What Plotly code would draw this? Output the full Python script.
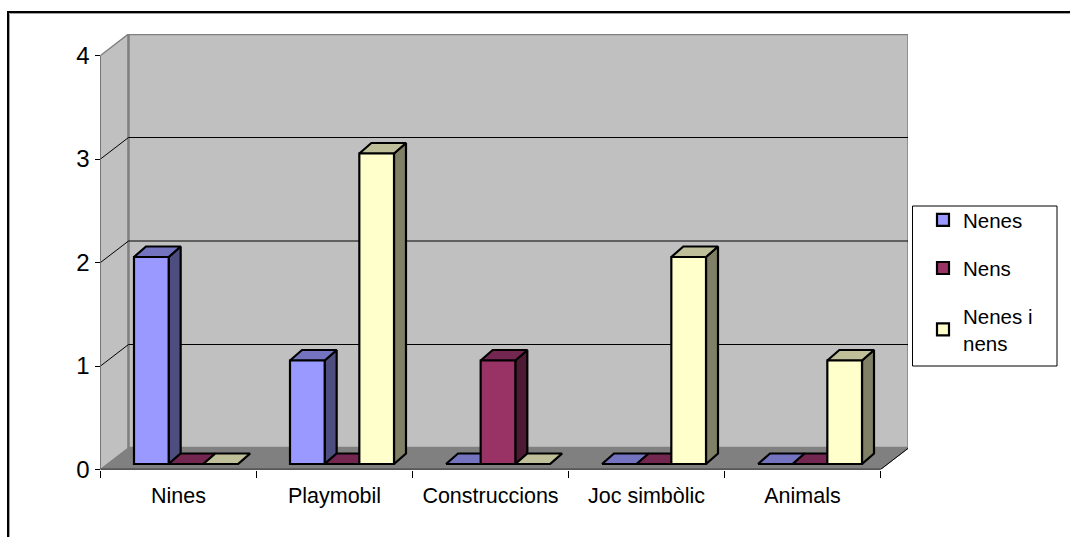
import plotly.graph_objects as go

categories = ["Nines", "Playmobil", "Construccions", "Joc simbòlic", "Animals"]
series_names = ["Nenes", "Nens", "Nenes i<br>nens"]
nenes = [2, 1, 0, 0, 0]
nens = [0, 0, 1, 0, 0]
nenes_i_nens = [0, 3, 0, 2, 1]
y_ticks = [0, 1, 2, 3, 4]
front_colors = ["#9999FF", "#993366", "#FFFFCC"]
side_colors = ["#4D4D80", "#4D1A33", "#808066"]
top_colors = ["#7373BF", "#732650", "#BFBF99"]

W, H = 1070, 537
LEFT, RIGHT, BOTTOM, TOP = 100.5, 908.0, 469.5, 34.0  # plot box in pixels
CAT_PX = 156.0
UNIT_PX = 103.5
DEPTH_X, DEPTH_Y = 28.0 / CAT_PX, 21.5 / UNIT_PX       # full depth of the box, data units
BAR_DX, BAR_DY = 12.0 / CAT_PX, 10.5 / UNIT_PX         # depth of one bar
OFF_X, OFF_Y = 7.5 / CAT_PX, 5.5 / UNIT_PX             # front of bars vs front of box
GAP = 1 / 3
BAR_W = (1 - GAP) / 3

n = len(categories)
x0, x1 = -0.5, n - 0.5
ymax = y_ticks[-1]
range_x = [x0, x0 + (RIGHT - LEFT) / CAT_PX]
range_y = [0, (BOTTOM - TOP) / UNIT_PX]

fig = go.Figure()


def poly(xs, ys, fill=None, color="black", width=1, xaxis="x", yaxis="y"):
    fig.add_trace(go.Scatter(
        x=xs, y=ys, mode="lines", showlegend=False, hoverinfo="skip", cliponaxis=False,
        fill="toself" if fill else None, fillcolor=fill,
        line=dict(color=color, width=width), xaxis=xaxis, yaxis=yaxis))


# walls and floor
poly([x0, x0 + DEPTH_X, x0 + DEPTH_X, x0], [0, DEPTH_Y, ymax + DEPTH_Y, ymax], "#C0C0C0", "#808080", 1.5)
poly([x0 + DEPTH_X, x1 + DEPTH_X, x1 + DEPTH_X, x0 + DEPTH_X, x0 + DEPTH_X],
     [DEPTH_Y, DEPTH_Y, ymax + DEPTH_Y, ymax + DEPTH_Y, DEPTH_Y], "#C0C0C0", "#808080", 2.5)
poly([x0, x1, x1 + DEPTH_X, x0 + DEPTH_X, x0], [0, 0, DEPTH_Y, DEPTH_Y, 0], "#808080", "#808080", 1)

# gridlines across the walls
for v in y_ticks[1:-1]:
    poly([x0, x0 + DEPTH_X, x1 + DEPTH_X], [v, v + DEPTH_Y, v + DEPTH_Y], None, "#000000", 1)
poly([x1, x1 + DEPTH_X], [0, DEPTH_Y], None, "black", 1)

# axis lines
poly([x0, x0], [0, ymax], None, "black", 1)
poly([x0, x1], [0, 0], None, "black", 1.5)

# sides and tops of the bars (behind all the fronts)
all_values = [nenes, nens, nenes_i_nens]
for s, values in enumerate(all_values):
    sx, sy, tx, ty = [], [], [], []
    for c, v in enumerate(values):
        left = c - 1.5 * BAR_W + s * BAR_W + OFF_X
        right = left + BAR_W
        base = OFF_Y
        topv = v + OFF_Y
        sx += [right, right + BAR_DX, right + BAR_DX, right, right, None]
        sy += [base, base + BAR_DY, topv + BAR_DY, topv, base, None]
        tx += [left, left + BAR_DX, right + BAR_DX, right, left, None]
        ty += [topv, topv + BAR_DY, topv + BAR_DY, topv, topv, None]
    poly(sx, sy, side_colors[s], "black", 2.2)
    poly(tx, ty, top_colors[s], "black", 2.2)

# bar fronts, on an overlaying pair of axes shifted forward into the box
for s, values in enumerate(all_values):
    fig.add_trace(go.Bar(
        x=list(range(n)), y=values, name=series_names[s], legendgroup=f"g{s}",
        marker=dict(color=front_colors[s], line=dict(color="black", width=2.2)),
        xaxis="x2", yaxis="y2", cliponaxis=False))

dom_x = [LEFT / W, RIGHT / W]
dom_y = [1 - BOTTOM / H, 1 - TOP / H]
boundaries = [x0 + i for i in range(n + 1)]

FONT = "Liberation Sans, Arial, sans-serif"


def frame_line(x_a, y_a, x_b, y_b, color, width):
    return dict(type="line", xref="paper", yref="paper", x0=x_a / W, x1=x_b / W,
                y0=1 - y_a / H, y1=1 - y_b / H, line=dict(color=color, width=width))


fig.update_layout(
    width=W, height=H, autosize=False,
    margin=dict(l=0, r=0, t=0, b=0, autoexpand=False),
    paper_bgcolor="white", plot_bgcolor="rgba(0,0,0,0)",
    barmode="group", bargap=GAP, bargroupgap=0,
    font=dict(family=FONT, color="black", size=21),
    xaxis=dict(domain=dom_x, range=range_x, tickmode="array", tickvals=list(range(n)),
               ticktext=categories, ticks="", showgrid=False, zeroline=False, showline=False,
               tickfont=dict(size=21.5), ticklabelstandoff=11,
               minor=dict(tickmode="array", tickvals=boundaries, ticks="outside", ticklen=7,
                          tickcolor="black", tickwidth=1, showgrid=False)),
    yaxis=dict(domain=dom_y, range=range_y, tickmode="array", tickvals=y_ticks,
               ticks="outside", ticklen=5, tickcolor="black", tickwidth=1, showgrid=False,
               zeroline=False, showline=False, tickfont=dict(size=24)),
    xaxis2=dict(domain=dom_x, range=[range_x[0] - OFF_X, range_x[1] - OFF_X], overlaying="x",
                anchor="y2", visible=False),
    yaxis2=dict(domain=dom_y, range=[range_y[0] - OFF_Y, range_y[1] - OFF_Y], overlaying="y",
                anchor="x2", visible=False),
    legend=dict(x=923 / W, xanchor="left", y=1 - 200 / H, yanchor="top",
                bgcolor="rgba(0,0,0,0)", borderwidth=0, traceorder="grouped",
                tracegroupgap=18.5, font=dict(size=20.5)),
    shapes=[
        frame_line(9.5, 537, 9.5, 13.5, "#A0A0A0", 1),
        frame_line(9.5, 13.5, 1070, 13.5, "#A0A0A0", 1),
        frame_line(8, 537, 8, 12, "black", 2),
        frame_line(7, 12, 1070, 12, "black", 2),
        frame_line(912.5, 206, 1057, 206, "black", 1),
        frame_line(912.5, 366, 1057, 366, "black", 1),
        frame_line(912.5, 206, 912.5, 366, "black", 1),
        frame_line(1057, 206, 1057, 366, "black", 1),
    ],
)

fig.write_html("out.html", post_script="document.body.style.margin='0';",
               config={"displayModeBar": False})
